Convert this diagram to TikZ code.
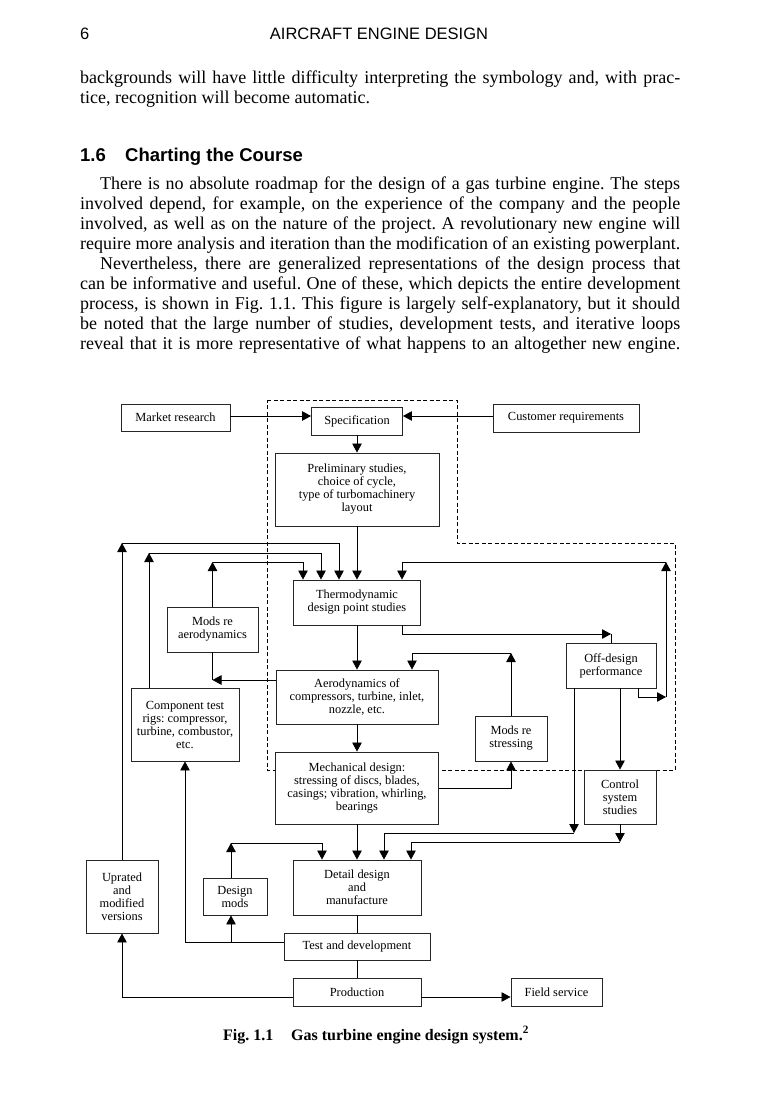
\documentclass[tikz,border=0pt]{standalone}
\usepackage{fontspec}
\setmainfont{Liberation Serif}
\newfontfamily\headsans{Liberation Sans}
\usetikzlibrary{arrows.meta}
\frenchspacing
\begin{document}
\begin{tikzpicture}[x=1pt,y=-1pt,
  box/.style={draw=black!85, line width=0.9pt, fill=white, align=center, inner sep=0pt,
    font=\fontsize{12.4}{13}\selectfont},
  conn/.style={line width=0.8pt},
  arr/.style={conn, -{Triangle[length=9pt,width=9.5pt]}},
  dashbox/.style={line width=0.8pt, dash pattern=on 4pt off 2.5pt},
  txtline/.style={anchor=base west, inner sep=0pt, font=\fontsize{18}{20}\selectfont},
  hdrfont/.style={anchor=base west, inner sep=0pt, font=\headsans\fontsize{16.5}{18}\selectfont},
  headfont/.style={anchor=base west, inner sep=0pt, font=\headsans\bfseries\fontsize{18.5}{20}\selectfont},
  capfont/.style={anchor=base west, inner sep=0pt, font=\bfseries\fontsize{16}{18}\selectfont},
]
\useasboundingbox[fill=white] (0,0) rectangle (768,1093);

% ---------- page text ----------
\node[hdrfont] (pgno) at (80,39) {6};
\node[hdrfont, anchor=base] (hdr) at (379,39) {AIRCRAFT ENGINE DESIGN};

\node[txtline] (t1) at (80,83) {\makebox[600pt][s]{backgrounds will have little difficulty interpreting the symbology and, with prac-}};
\node[txtline] (t2) at (80,103) {tice, recognition will become automatic.};

\node[headfont] (secno) at (80,161) {1.6};
\node[headfont] (sectitle) at (125,161) {Charting the Course};

\node[txtline] (p1) at (80,189) {\makebox[600pt][s]{\hspace*{20pt}There is no absolute roadmap for the design of a gas turbine engine. The steps}};
\node[txtline] (p2) at (80,209) {\makebox[600pt][s]{involved depend, for example, on the experience of the company and the people}};
\node[txtline] (p3) at (80,229) {\makebox[600pt][s]{involved, as well as on the nature of the project. A revolutionary new engine will}};
\node[txtline] (p4) at (80,249) {\makebox[600pt][s]{require more analysis and iteration than the modification of an existing powerplant.}};
\node[txtline] (p5) at (80,269) {\makebox[600pt][s]{\hspace*{20pt}Nevertheless, there are generalized representations of the design process that}};
\node[txtline] (p6) at (80,289) {\makebox[600pt][s]{can be informative and useful. One of these, which depicts the entire development}};
\node[txtline] (p7) at (80,309) {\makebox[600pt][s]{process, is shown in Fig. 1.1. This figure is largely self-explanatory, but it should}};
\node[txtline] (p8) at (80,329) {\makebox[600pt][s]{be noted that the large number of studies, development tests, and iterative loops}};
\node[txtline] (p9) at (80,349) {\makebox[600pt][s]{reveal that it is more representative of what happens to an altogether new engine.}};

\node[capfont] (figno) at (223,1040) {Fig. 1.1};
\node[capfont] (figcap) at (291,1040) {Gas turbine engine design system.\textsuperscript{2}};

% ---------- dashed region ----------
\draw[dashbox] (267,400) -- (457,400) -- (457,543) -- (675,543) -- (675,770) -- (267,770) -- cycle;

% ---------- boxes ----------
\node[box, minimum width=109pt, minimum height=27pt] (mr) at (175.5,417.5) {Market research};
\node[box, minimum width=91pt, minimum height=28pt] (spec) at (357,421) {Specification};
\node[box, minimum width=146pt, minimum height=28pt] (cust) at (566,418) {Customer requirements};
\node[box, minimum width=164pt, minimum height=73pt] (prelim) at (357,489.5) {Preliminary studies,\\choice of cycle,\\type of turbomachinery\\layout};
\node[box, minimum width=127pt, minimum height=45pt] (thermo) at (357,602.5) {Thermodynamic\\design point studies};
\node[box, minimum width=91pt, minimum height=45pt] (modsaero) at (212.5,629.5) {Mods re\\aerodynamics};
\node[box, minimum width=90pt, minimum height=45pt] (offd) at (611,665.5) {Off-design\\performance};
\node[box, minimum width=162pt, minimum height=54pt] (aero) at (357,697) {Aerodynamics of\\compressors, turbine, inlet,\\nozzle, etc.};
\node[box, minimum width=108pt, minimum height=73pt] (comp) at (185,724.5) {Component test\\rigs: compressor,\\turbine, combustor,\\etc.};
\node[box, minimum width=72pt, minimum height=45pt] (modsstr) at (511,738.5) {Mods re\\stressing};
\node[box, minimum width=163pt, minimum height=72pt] (mech) at (357,788) {Mechanical design:\\stressing of discs, blades,\\casings; vibration, whirling,\\bearings};
\node[box, minimum width=72pt, minimum height=54pt] (control) at (620,797) {Control\\system\\studies};
\node[box, minimum width=128pt, minimum height=55pt] (detail) at (357,887.5) {Detail design\\and\\manufacture};
\node[box, minimum width=64pt, minimum height=37pt] (dmods) at (235,896.5) {Design\\mods};
\node[box, minimum width=72pt, minimum height=73pt] (uprated) at (122,896.5) {Uprated\\and\\modified\\versions};
\node[box, minimum width=146pt, minimum height=27pt] (test) at (357,946.5) {Test and development};
\node[box, minimum width=128pt, minimum height=28pt] (prod) at (357,992) {Production};
\node[box, minimum width=91pt, minimum height=28pt] (field) at (556.5,992) {Field service};

% ---------- helper coordinates ----------
\coordinate (y416) at (0,416);
\coordinate (x303) at (303,0);
\coordinate (x321) at (321,0);
\coordinate (x339) at (339,0);
\coordinate (x402) at (402,0);
\coordinate (x412) at (412,0);
\coordinate (x638) at (638,0);
\coordinate (x322) at (322,0);
\coordinate (x384) at (384,0);
\coordinate (x411) at (411,0);
\coordinate (L1) at (122,543);
\coordinate (L2) at (149,553);
\coordinate (L3) at (212.5,562);
\coordinate (R1) at (666,697);
\coordinate (R2) at (666,562);
\coordinate (T1) at (611,634);
\coordinate (S1) at (511,653);
\coordinate (A1) at (212.5,680);
\coordinate (O1) at (574,833);
\coordinate (C1) at (620,842);
\coordinate (D1) at (231,843);
\coordinate (E1) at (185,942);
\coordinate (P1) at (122,997);

% ---------- connectors ----------
\draw[arr] (mr.east |- y416) -- (spec.west |- y416);
\draw[arr] (cust.west |- y416) -- (spec.east |- y416);
\draw[arr] (spec.south) -- (prelim.north);
\draw[arr] (prelim.south) -- (thermo.north);

\draw[arr] (uprated.north) -- (L1);
\draw[arr] (L1) -| (thermo.north -| x339);
\draw[arr] (comp.north -| L2) -- (L2);
\draw[arr] (L2) -| (thermo.north -| x321);
\draw[arr] (modsaero.north) -- (L3);
\draw[arr] (L3) -| (thermo.north -| x303);

\draw[arr] (offd.south -| x638) |- (R1);
\draw[arr] (R1) -- (R2);
\draw[arr] (R2) -| (thermo.north -| x402);

\draw[arr] (thermo.south -| x402) |- (T1);
\draw[conn] (T1) -- (offd.north);

\draw[arr] (thermo.south) -- (aero.north);
\draw[arr] (modsstr.north) -- (S1);
\draw[arr] (S1) -| (aero.north -| x412);
\draw[arr] (aero.west |- A1) -- (A1);
\draw[conn] (modsaero.south) -- (A1);

\draw[arr] (aero.south) -- (mech.north);
\draw[arr] (mech.east) -| (modsstr.south);

\draw[arr] (offd.south -| control.north) -- (control.north);
\draw[arr] (offd.south -| O1) -- (O1);
\draw[arr] (O1) -| (detail.north -| x384);
\draw[arr] (control.south) -- (C1);
\draw[arr] (C1) -| (detail.north -| x411);

\draw[arr] (mech.south) -- (detail.north);
\draw[arr] (dmods.north -| D1) -- (D1);
\draw[arr] (D1) -| (detail.north -| x322);

\draw[conn] (detail.south) -- (test.north);
\draw[conn] (test.south) -- (prod.north);
\draw[arr] (test.west |- E1) -| (comp.south);
\draw[arr] (D1 |- E1) -- (dmods.south -| D1);

\draw[arr] (prod.west |- P1) -| (uprated.south);
\draw[arr] (prod.east |- P1) -- (field.west |- P1);
\end{tikzpicture}
\end{document}
